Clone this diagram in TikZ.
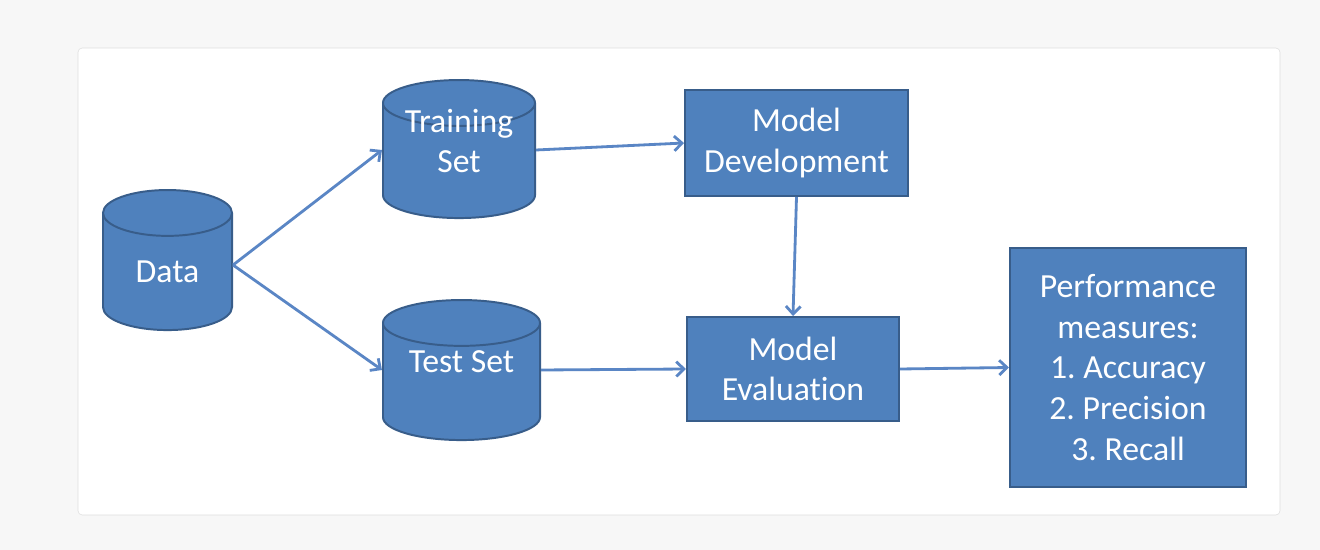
\documentclass[tikz,border=0pt]{standalone}
\usepackage{fontspec}
\setmainfont{Carlito}[Ligatures=NoCommon]
\usetikzlibrary{shapes.geometric, arrows.meta, positioning}
\definecolor{boxblue}{HTML}{4F81BD}
\definecolor{boxedge}{HTML}{385D8A}
\definecolor{arrowblue}{HTML}{5A86C5}
\definecolor{pagegray}{HTML}{F7F7F7}
\definecolor{cardedge}{HTML}{DEDEDE}
\frenchspacing
\tikzset{
  datastore/.style={cylinder, shape border rotate=90, aspect=0.72,
    draw=boxedge, fill=boxblue, line width=1.4pt, text=white,
    font=\fontsize{24}{29}\selectfont, align=center, inner sep=0pt},
  storetext/.style={text=white, font=\fontsize{24}{29}\selectfont,
    align=center, inner sep=0pt},
  stagebox/.style={rectangle, draw=boxedge, fill=boxblue, line width=1.4pt,
    text=white, font=\fontsize{24}{29}\selectfont, align=center, inner sep=0pt},
  flow/.style={draw=arrowblue, line width=2pt,
    -{Straight Barb[length=5.5pt, width=10.5pt]}}
}
\begin{document}
\begin{tikzpicture}[x=0.025cm, y=-0.025cm]
% page and card
\fill[pagegray] (0,0) rectangle (1320,550);
\draw[cardedge, fill=white, rounded corners=3] (78,48) rectangle (1280,515);

% data stores
\node[datastore, minimum width=3.225cm, minimum height=3.5cm] (data) at (167.5,272) {Data};
\node[datastore, minimum width=3.8cm, minimum height=3.45cm] (train) at (459,161) {\phantom{Data}};
\node[storetext] (trainlabel) at (459,141) {Training\\Set};
\node[datastore, minimum width=3.925cm, minimum height=3.5cm] (test) at (461.5,382) {\phantom{Data}};
\node[storetext] (testlabel) at (461.5,362) {Test Set};

% stages
\node[stagebox, minimum width=5.575cm, minimum height=2.65cm] (dev) at (796.5,143) {Model\\Development};
\node[stagebox, minimum width=5.3cm, minimum height=2.6cm] (eval) at (793,369) {Model\\Evaluation};
\node[stagebox, minimum width=5.9cm, minimum height=5.975cm] (perf) at (1128,367.5)
  {Performance\\measures:\\1. Accuracy\\2. Precision\\3. Recall};

% connectors
\draw[flow] ([yshift=0.175cm]data.east) -- ([yshift=0.275cm]train.west);
\draw[flow] ([yshift=0.175cm]data.east) -- ([yshift=0.3cm]test.west);
\draw[flow] ([yshift=0.275cm]train.east) -- (dev.west);
\draw[flow] ([yshift=0.3cm]test.east) -- (eval.west);
\draw[flow] (dev.south) -- (eval.north);
\draw[flow] (eval.east) -- (perf.west);
\end{tikzpicture}
\end{document}
